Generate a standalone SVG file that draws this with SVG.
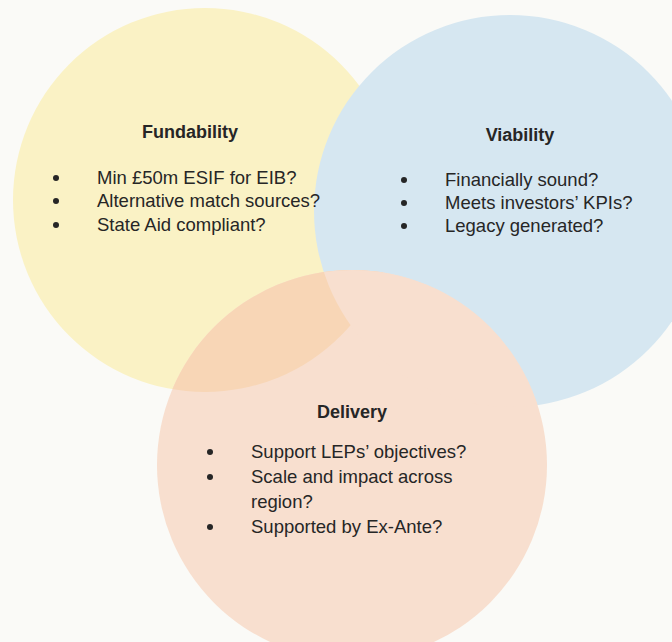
<svg xmlns="http://www.w3.org/2000/svg" width="672" height="642" viewBox="0 0 672 642">
  <defs>
    <style>
      .title { font-family: "Liberation Sans", Arial, sans-serif; font-size: 18px; font-weight: bold; fill: #262626; text-anchor: middle; }
      .item  { font-family: "Liberation Sans", Arial, sans-serif; font-size: 18.5px; fill: #262626; }
      .dot   { fill: #262626; }
    </style>
    <circle id="disc-yellow" cx="205" cy="200" r="192"/>
    <circle id="disc-blue" cx="510" cy="211" r="196"/>
    <circle id="disc-orange" cx="352" cy="465" r="195"/>
    <clipPath id="clip-yellow"><use href="#disc-yellow"/></clipPath>
    <clipPath id="clip-blue"><use href="#disc-blue"/></clipPath>
  </defs>

  <rect width="672" height="642" fill="#fafaf7"/>

  <!-- overlapping discs -->
  <g id="discs">
    <use href="#disc-yellow" fill="#faf2c5"/>
    <use href="#disc-blue" fill="#d6e7f1"/>
    <use href="#disc-orange" fill="#f8dfcf"/>
    <!-- deeper tint where Delivery overlaps Fundability -->
    <use href="#disc-orange" fill="#f8d6b6" clip-path="url(#clip-yellow)"/>
    <use href="#disc-orange" fill="#f8dfcf" clip-path="url(#clip-blue)"/>
  </g>

  <g id="node-fundability">
    <text class="title" x="190" y="138">Fundability</text>
    <circle class="dot" cx="56" cy="178" r="3"/>
    <circle class="dot" cx="56" cy="201" r="3"/>
    <circle class="dot" cx="56" cy="225" r="3"/>
    <text class="item" x="97" y="184">Min £50m ESIF for EIB?</text>
    <text class="item" x="97" y="207">Alternative match sources?</text>
    <text class="item" x="97" y="231">State Aid compliant?</text>
  </g>

  <g id="node-viability">
    <text class="title" x="520" y="141">Viability</text>
    <circle class="dot" cx="404" cy="180" r="3"/>
    <circle class="dot" cx="404" cy="203" r="3"/>
    <circle class="dot" cx="404" cy="226" r="3"/>
    <text class="item" x="445" y="186">Financially sound?</text>
    <text class="item" x="445" y="209">Meets investors’ KPIs?</text>
    <text class="item" x="445" y="232">Legacy generated?</text>
  </g>

  <g id="node-delivery">
    <text class="title" x="352" y="418">Delivery</text>
    <circle class="dot" cx="210" cy="452" r="3"/>
    <circle class="dot" cx="210" cy="477" r="3"/>
    <circle class="dot" cx="210" cy="527" r="3"/>
    <text class="item" x="251" y="458">Support LEPs’ objectives?</text>
    <text class="item" x="251" y="483">Scale and impact across</text>
    <text class="item" x="251" y="508">region?</text>
    <text class="item" x="251" y="533">Supported by Ex-Ante?</text>
  </g>
</svg>
